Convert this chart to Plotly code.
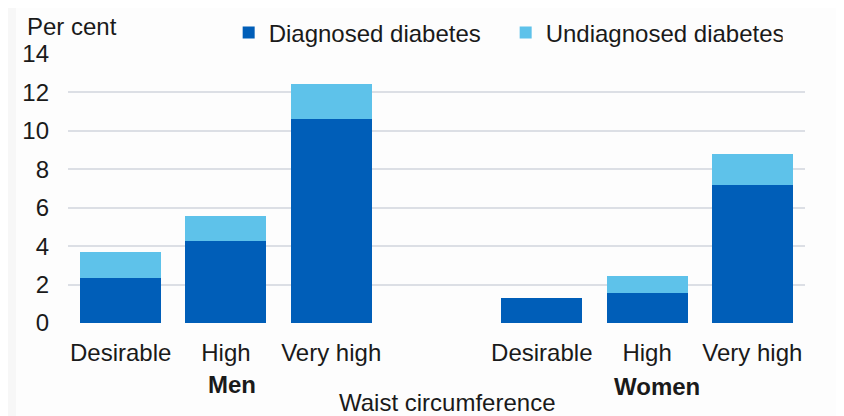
import plotly.graph_objects as go

groups = ["Men", "Women"]
waist = ["Desirable", "High", "Very high"]

men_diagnosed = [2.35, 4.25, 10.6]
men_undiagnosed = [1.35, 1.3, 1.85]
women_diagnosed = [1.32, 1.58, 7.2]
women_undiagnosed = [None, 0.87, 1.6]

y_ticks = [0, 2, 4, 6, 8, 10, 12, 14]

DARK = "#005eb8"
LIGHT = "#5ec2ea"
FONT = "Liberation Sans, Arial, sans-serif"
FS = 24

# one blank slot between the two groups
keys = [f"Men|{w}" for w in waist] + ["gap"] + [f"Women|{w}" for w in waist]
labels = waist + [""] + waist

diag = men_diagnosed + [None] + women_diagnosed
undiag = men_undiagnosed + [None] + women_undiagnosed

fig = go.Figure()
fig.add_trace(go.Bar(x=keys, y=diag, name="Diagnosed diabetes",
                     marker=dict(color=DARK, line=dict(width=0))))
fig.add_trace(go.Bar(x=keys, y=undiag, name="Undiagnosed diabetes",
                     marker=dict(color=LIGHT, line=dict(width=0))))

# page has an 8px body margin, so the figure is 836x408
fig.update_layout(
    barmode="stack",
    bargap=0.23,
    width=836,
    height=408,
    margin=dict(l=60, r=39, t=46, b=93, autoexpand=False),
    paper_bgcolor="#f7f7f7",
    plot_bgcolor="rgba(0,0,0,0)",
    font=dict(family=FONT, size=FS, color="#1a1a1a"),
    showlegend=True,
    legend=dict(
        orientation="h",
        traceorder="normal",
        x=0.218, xanchor="left",
        y=1.078, yanchor="middle",
        bgcolor="rgba(0,0,0,0)",
        font=dict(size=FS),
        entrywidth=232, entrywidthmode="pixels",
        itemclick=False, itemdoubleclick=False,
    ),
    xaxis=dict(
        type="category",
        categoryorder="array",
        categoryarray=keys,
        tickvals=keys,
        ticktext=labels,
        showgrid=False,
        zeroline=False,
        showline=False,
        ticks="",
        ticklabelstandoff=13,
        tickfont=dict(size=FS),
    ),
    yaxis=dict(
        range=[0, 14],
        tickvals=y_ticks,
        showgrid=True,
        gridcolor="#dcdfe5",
        gridwidth=1.5,
        zeroline=False,
        showline=False,
        ticks="",
        ticklabelstandoff=18,
        tickfont=dict(size=FS),
    ),
    shapes=[dict(
        type="rect", xref="paper", yref="paper", layer="below",
        x0=-0.0706, x1=1.1, y0=-0.4, y1=1.25,
        fillcolor="#fdfdfd", line=dict(width=0),
    )],
    annotations=[
        dict(text="Per cent", xref="paper", yref="paper", x=-0.058, y=1.102,
             xanchor="left", yanchor="middle", showarrow=False, font=dict(size=FS)),
        dict(text="<b>Men</b>", xref="x", yref="paper", x="Men|High", y=-0.17,
             xshift=6, yanchor="top", showarrow=False, font=dict(size=FS)),
        dict(text="<b>Women</b>", xref="x", yref="paper", x="Women|High", y=-0.18,
             xshift=10, yanchor="top", showarrow=False, font=dict(size=FS)),
        dict(text="Waist circumference", xref="paper", yref="paper", x=0.5, y=-0.297,
             xshift=11, yanchor="middle", showarrow=False, font=dict(size=FS)),
    ],
)

fig.write_html("out.html")
